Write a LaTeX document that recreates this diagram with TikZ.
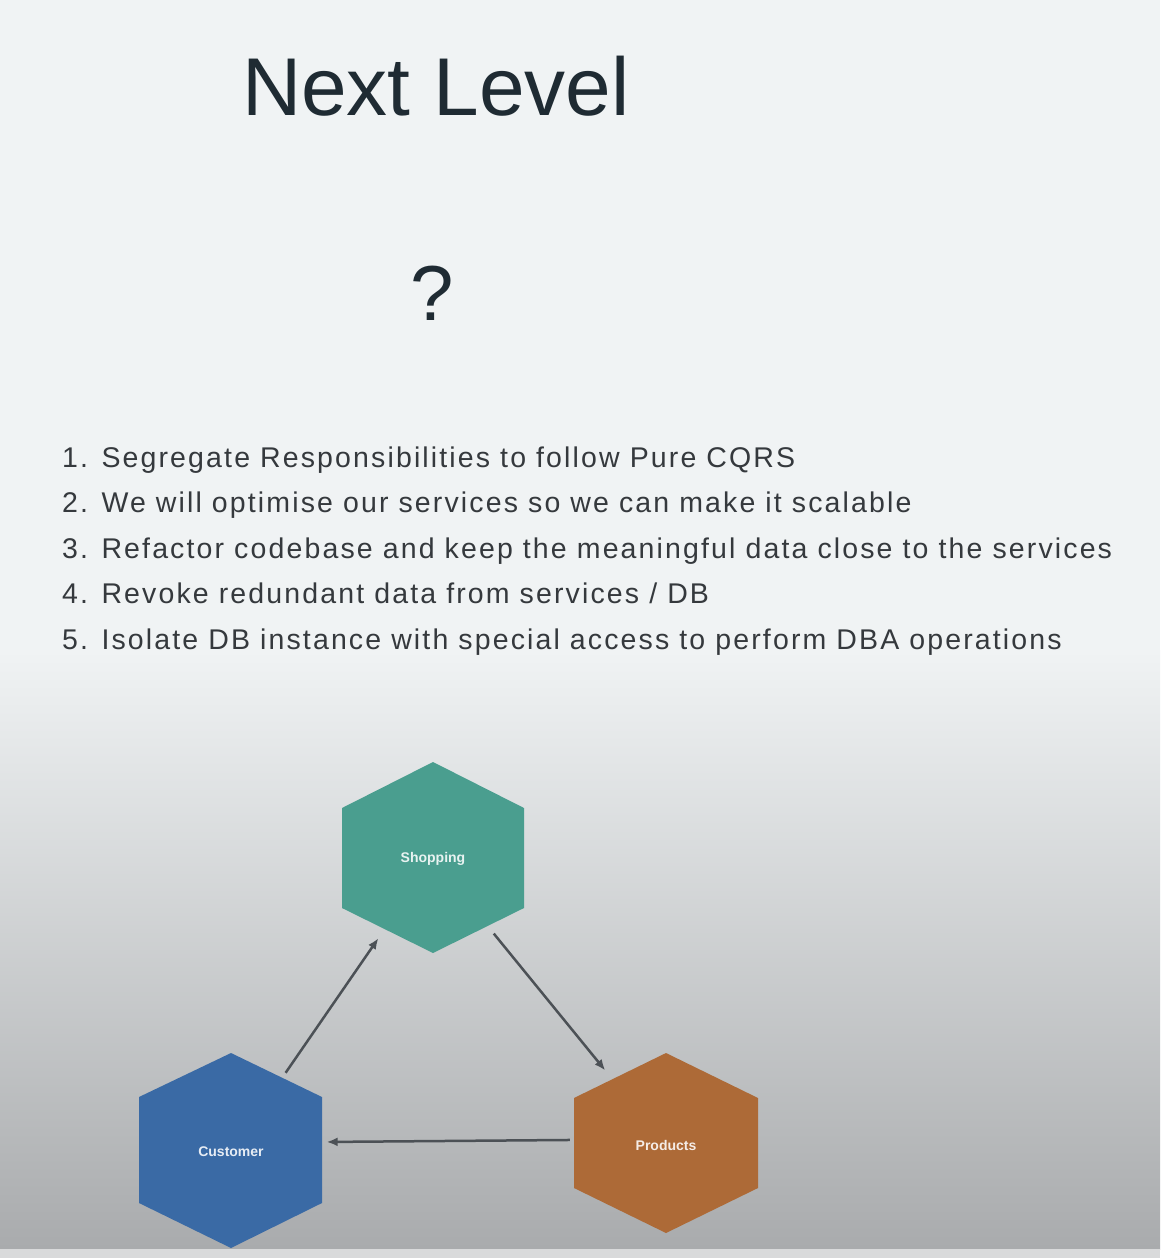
\documentclass[tikz,border=0pt]{standalone}
\usepackage{fontspec}
\setmainfont{Liberation Sans}
\usepackage{xcolor}
\usetikzlibrary{arrows.meta,positioning,shapes.geometric}

\definecolor{slidebg}{HTML}{F0F3F4}
\definecolor{slidelow}{HTML}{A9ABAD}
\definecolor{slidestrip}{HTML}{D9DADB}
\definecolor{titleink}{HTML}{1F2B33}
\definecolor{listink}{HTML}{35393D}
\definecolor{shopcol}{HTML}{4A9E8F}
\definecolor{custcol}{HTML}{3A6AA5}
\definecolor{prodcol}{HTML}{AD6A37}
\definecolor{arrowink}{HTML}{4C5156}

\begin{document}
\begin{tikzpicture}[x=1pt,y=-1pt,>={Latex[length=11pt,width=9pt]}]
        \tikzset{title/.style={anchor=base west,inner sep=0,text=titleink,font=\fontsize{82}{90}\selectfont},
        item/.style={anchor=base west,inner sep=0,text=listink,font=\fontsize{28.5}{34}\selectfont\addfontfeatures{LetterSpace=7.5}},
        hexlabel/.style={shape=circle,minimum size=192pt,inner sep=0,text=white,text opacity=0.88,font=\fontsize{14}{16}\selectfont\bfseries},
        flow/.style={draw=arrowink,line width=2.5pt,->},
        }
%% slide background
        \fill[slidebg] (0,0) rectangle (1160,1258);
        \shade[top color=slidebg,bottom color=slidelow] (0,650) rectangle (1160,1249);
        \fill[slidestrip] (0,1249) rectangle (1160,1258);
        \useasboundingbox (0,0) rectangle (1160,1258);

        \node [title] (head) at (242,115) {Next Level};
        \node [title, anchor=base, font=\fontsize{78}{90}\selectfont] (quest) at (432,320) {?};

%% list of steps
        \node [item] (i1) at (62,467) {1. Segregate Responsibilities to follow Pure CQRS};
        \node [item, below=45.5pt of i1.base west, anchor=base west] (i2) {2. We will optimise our services so we can make it scalable};
        \node [item, below=45.5pt of i2.base west, anchor=base west] (i3) {3. Refactor codebase and keep the meaningful data close to the services};
        \node [item, below=45.5pt of i3.base west, anchor=base west] (i4) {4. Revoke redundant data from services / DB};
        \node [item, below=45.5pt of i4.base west, anchor=base west] (i5) {5. Isolate DB instance with special access to perform DBA operations};

%% hexagons
        \fill[shopcol] (433,762) -- (524,808) -- (524,908) -- (433,953) -- (342,908) -- (342,808) -- cycle;
        \fill[custcol] (231,1053) -- (322,1097) -- (322,1203) -- (231,1248) -- (139,1203) -- (139,1097) -- cycle;
        \fill[prodcol] (666,1053) -- (758,1098) -- (758,1188) -- (666,1233) -- (574,1188) -- (574,1098) -- cycle;
        \node [hexlabel] (shop) at (433,859) {Shopping};
        \node [hexlabel] (cust) at (231,1152) {Customer};
        \node [hexlabel] (prod) at (666,1145) {Products};

%% paths
        \path (cust) edge[flow] (shop)
              (shop) edge[flow] (prod)
              (prod.177) edge[flow] (cust.6)
              ;
    \end{tikzpicture}
\end{document}
